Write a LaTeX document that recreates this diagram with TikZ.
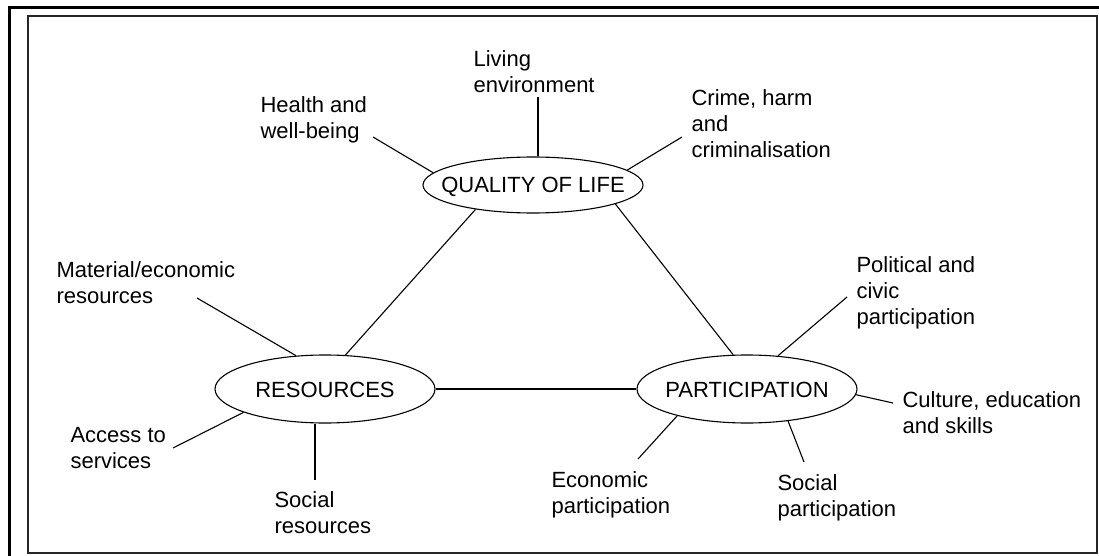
\documentclass[tikz,border=0pt]{standalone}
\usepackage{fontspec}
\setmainfont{Liberation Sans}
\usetikzlibrary{shapes.geometric}

\tikzset{
	hub/.style={ellipse, draw, inner xsep=-20pt, inner ysep=0pt, minimum width=220pt, text height=16pt, text depth=0pt},
	spoke/.style={anchor=north west, inner sep=0pt, align=left}
}

\begin{document}
\begin{tikzpicture}[x=1pt, y=-1pt, line width=1.1pt, font=\fontsize{22}{26}\selectfont]
	\useasboundingbox (0,0) rectangle (1099,556);
	%\draw (9.5,8) rectangle (1120,570);
	\draw[line width=3pt] (9.5,556) -- (9.5,8) -- (1099,8);
	\draw[line width=2pt, black!85] (28,16) rectangle (1097,553);

	\node[hub, minimum height=56pt] (q) at (533,185) {QUALITY OF LIFE};
	\node[hub, minimum height=68pt] (r) at (325,389) {RESOURCES};
	\node[hub, minimum height=68pt] (p) at (747,389) {PARTICIPATION};

	\node[spoke] (health) at (260,96) {Health and\\well-being};
	\node[spoke] (living) at (473,50) {Living\\environment};
	\node[spoke] (crime) at (691,89) {Crime, harm\\and\\criminalisation};
	\node[spoke] (material) at (56,261) {Material/economic\\resources};
	\node[spoke] (access) at (70,427) {Access to\\services};
	\node[spoke] (socres) at (274,491) {Social\\resources};
	\node[spoke] (econ) at (551,471) {Economic\\participation};
	\node[spoke] (socpart) at (777,474) {Social\\participation};
	\node[spoke] (culture) at (902,391) {Culture, education\\and skills};
	\node[spoke] (political) at (856,256) {Political and\\civic\\participation};

	\coordinate (health end) at (373,137);
	\coordinate (living end) at (538,97);
	\coordinate (crime end) at (682,137);
	\coordinate (material end) at (197,298);
	\coordinate (access end) at (173,448);
	\coordinate (socres end) at (315,480);
	\coordinate (econ end) at (638,459);
	\coordinate (socpart end) at (804,462);
	\coordinate (culture end) at (893,403);
	\coordinate (political end) at (847,297);

	\draw (q.203.6) -- (r.59);
	\draw (q.347) -- (p.112.5);
	\draw (r.east) -- (p.west);

	\foreach \c/\n/\a in {health/q/173, crime/q/9.5, material/r/131.5, access/r/196, econ/p/201, socpart/p/322, culture/p/357, political/p/47}
		\draw (\c\space end) -- (\n.\a);
	\draw (living end) -- (living end |- q.north);
	\draw (socres end) -- (socres end |- r.south);
\end{tikzpicture}
\end{document}
